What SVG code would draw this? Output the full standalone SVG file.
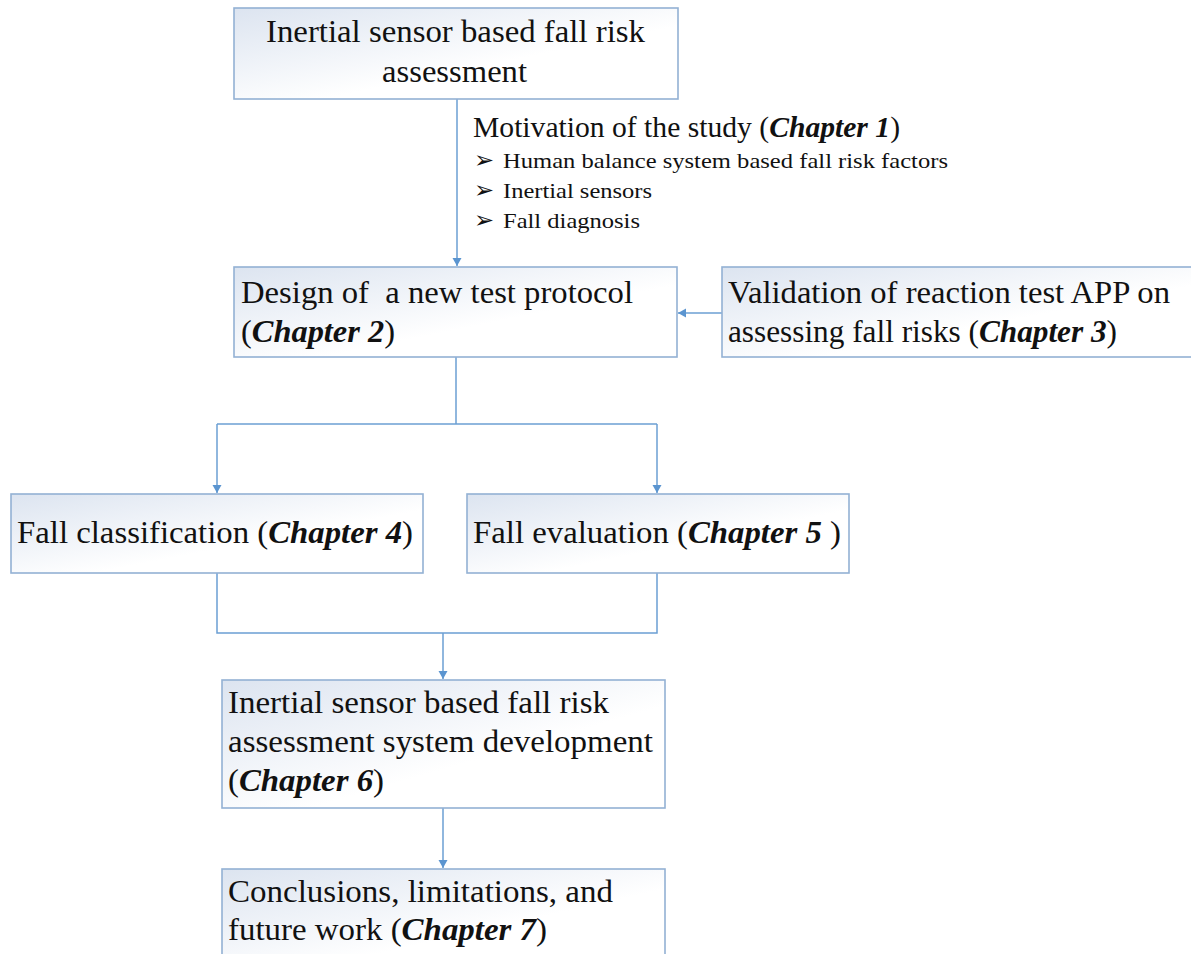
<svg xmlns="http://www.w3.org/2000/svg" width="1191" height="954" viewBox="0 0 1191 954">
  <style>
    .box { stroke: #93b1d4; stroke-width: 1.6; fill: url(#boxFill); }
    .lbl { font-family: "Liberation Serif", "Times New Roman", serif; font-size: 31px; fill: #111; }
    .small { font-family: "Liberation Serif", "Times New Roman", serif; font-size: 21px; fill: #111; }
    .mid { font-family: "Liberation Serif", "Times New Roman", serif; font-size: 30px; fill: #111; }
    .ch { font-weight: bold; font-style: italic; }
    .bullet { font-family: "DejaVu Sans", sans-serif; font-size: 24px; fill: #111; }
    .conn { stroke: #6b9fd3; stroke-width: 1.5; fill: none; }
  </style>
  <defs>
    <linearGradient id="boxFill" x1="0" y1="0" x2="1" y2="1">
      <stop offset="0" stop-color="#dce4f0"/>
      <stop offset="0.6" stop-color="#ffffff"/>
      <stop offset="1" stop-color="#ffffff"/>
    </linearGradient>
    <marker id="arrow" markerUnits="userSpaceOnUse" markerWidth="10" markerHeight="10" refX="8" refY="4.5" orient="auto">
      <path d="M0,0 L8,4.5 L0,9 Z" fill="#5b95d0"/>
    </marker>
  </defs>

  <rect width="1191" height="954" fill="#ffffff"/>

  <!-- connectors -->
  <g id="connectors">
    <path class="conn" d="M457,99 V266" marker-end="url(#arrow)"/>
    <path class="conn" d="M722,313 H678" marker-end="url(#arrow)"/>
    <path class="conn" d="M456,357 V424"/>
    <path class="conn" d="M217,424 H657"/>
    <path class="conn" d="M217,424 V493" marker-end="url(#arrow)"/>
    <path class="conn" d="M657,424 V493" marker-end="url(#arrow)"/>
    <path class="conn" d="M217,573 V633 H657 V573"/>
    <path class="conn" d="M443,633 V679" marker-end="url(#arrow)"/>
    <path class="conn" d="M443,808 V868" marker-end="url(#arrow)"/>
  </g>

  <!-- top: overall topic -->
  <g id="node-topic">
    <rect class="box" x="234" y="8" width="444" height="91"/>
    <text class="lbl" x="266" y="42" textLength="379" lengthAdjust="spacingAndGlyphs">Inertial sensor based fall risk</text>
    <text class="lbl" x="382" y="82" textLength="145" lengthAdjust="spacingAndGlyphs">assessment</text>
  </g>

  <!-- motivation notes beside the first connector -->
  <g id="note-motivation">
    <text class="mid" x="473" y="137" textLength="427" lengthAdjust="spacingAndGlyphs">Motivation of the study (<tspan class="ch">Chapter 1</tspan>)</text>
    <text class="bullet" x="474" y="168">➢</text>
    <text class="small" x="503" y="168" textLength="445" lengthAdjust="spacingAndGlyphs">Human balance system based fall risk factors</text>
    <text class="bullet" x="474" y="198">➢</text>
    <text class="small" x="503" y="198" textLength="149" lengthAdjust="spacingAndGlyphs">Inertial sensors</text>
    <text class="bullet" x="474" y="228">➢</text>
    <text class="small" x="503" y="228" textLength="137" lengthAdjust="spacingAndGlyphs">Fall diagnosis</text>
  </g>

  <g id="node-protocol">
    <rect class="box" x="234" y="267" width="443" height="90"/>
    <text class="lbl" x="241" y="303" textLength="392" lengthAdjust="spacingAndGlyphs" style="white-space: pre">Design of  a new test protocol</text>
    <text class="lbl" x="241" y="342" textLength="154" lengthAdjust="spacingAndGlyphs">(<tspan class="ch">Chapter 2</tspan>)</text>
  </g>

  <g id="node-validation">
    <rect class="box" x="722" y="267" width="475" height="90"/>
    <text class="lbl" x="728" y="303" textLength="442" lengthAdjust="spacingAndGlyphs">Validation of reaction test APP on</text>
    <text class="lbl" x="728" y="342" textLength="389" lengthAdjust="spacingAndGlyphs">assessing fall risks (<tspan class="ch">Chapter 3</tspan>)</text>
  </g>

  <g id="node-classification">
    <rect class="box" x="11" y="494" width="412" height="79"/>
    <text class="lbl" x="17" y="543" textLength="396" lengthAdjust="spacingAndGlyphs">Fall classification (<tspan class="ch">Chapter 4</tspan>)</text>
  </g>

  <g id="node-evaluation">
    <rect class="box" x="467" y="494" width="382" height="79"/>
    <text class="lbl" x="473" y="543" textLength="368" lengthAdjust="spacingAndGlyphs">Fall evaluation (<tspan class="ch">Chapter 5 </tspan>)</text>
  </g>

  <g id="node-system">
    <rect class="box" x="222" y="680" width="443" height="128"/>
    <text class="lbl" x="228" y="713" textLength="381" lengthAdjust="spacingAndGlyphs">Inertial sensor based fall risk</text>
    <text class="lbl" x="228" y="752" textLength="425" lengthAdjust="spacingAndGlyphs">assessment system development</text>
    <text class="lbl" x="228" y="791" textLength="156" lengthAdjust="spacingAndGlyphs">(<tspan class="ch">Chapter 6</tspan>)</text>
  </g>

  <g id="node-conclusions">
    <rect class="box" x="222" y="869" width="443" height="100"/>
    <text class="lbl" x="228" y="902" textLength="385" lengthAdjust="spacingAndGlyphs">Conclusions, limitations, and</text>
    <text class="lbl" x="228" y="940" textLength="319" lengthAdjust="spacingAndGlyphs">future work (<tspan class="ch">Chapter 7</tspan>)</text>
  </g>
</svg>
